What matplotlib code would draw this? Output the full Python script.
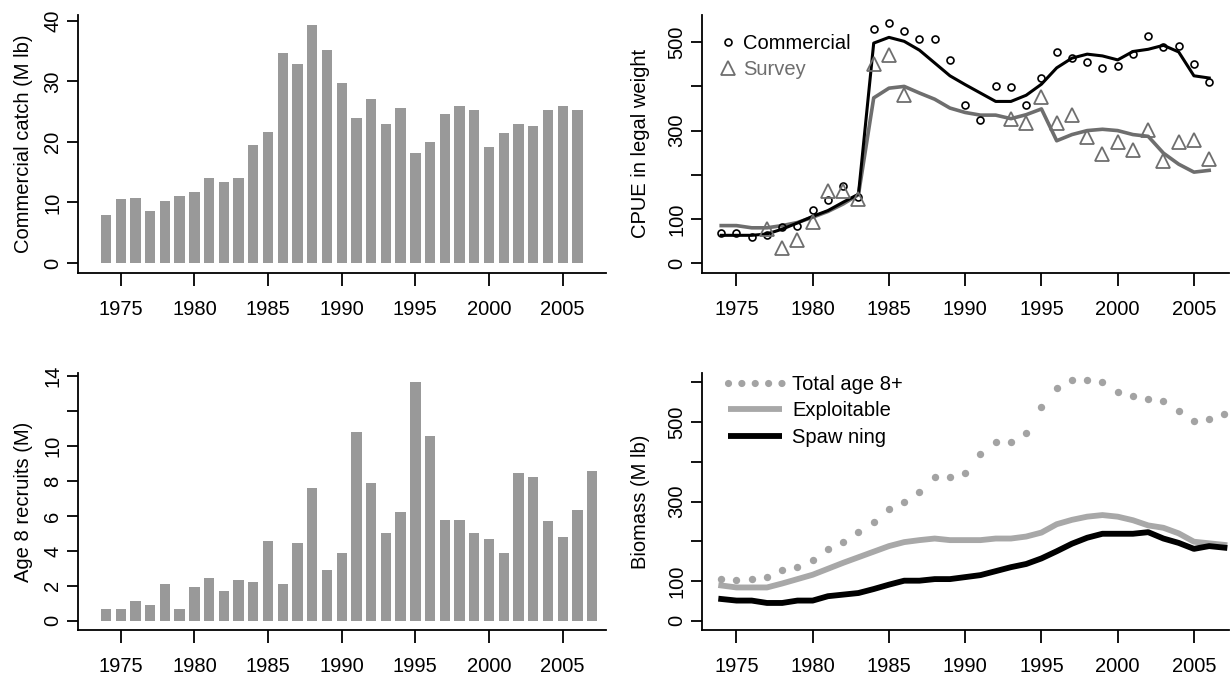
import matplotlib
matplotlib.use("Agg")
import matplotlib.pyplot as plt
from matplotlib.lines import Line2D
import numpy as np

plt.rcParams['font.family'] = ['Liberation Sans', 'DejaVu Sans']

# ---- data ----
years_catch = np.arange(1974, 2007)
catch = [8.0, 10.5, 10.8, 8.6, 10.3, 11.1, 11.8, 14.0, 13.4, 14.0,
         19.5, 21.7, 34.6, 32.9, 39.3, 35.2, 29.8, 24.0, 27.1, 23.0,
         25.6, 18.2, 19.9, 24.6, 26.0, 25.3, 19.2, 21.5, 23.0, 22.7,
         25.3, 26.0, 25.3]

years_rec = np.arange(1974, 2008)
recruits = [0.69, 0.69, 1.14, 0.91, 2.11, 0.69, 1.94, 2.46, 1.71, 2.34,
            2.23, 4.57, 2.11, 4.46, 7.6, 2.91, 3.89, 10.8, 7.89, 5.03,
            6.23, 13.66, 10.57, 5.77, 5.77, 5.03, 4.69, 3.89, 8.46, 8.23,
            5.71, 4.8, 6.34, 8.57]

years_cpue = np.arange(1974, 2007)
comm_obs = [68, 69, 59, 63, 82, 85, 121, 143, 174, 150,
            530, 543, 525, 508, 508, 460, 358, 323, 402, 398,
            358, 420, 477, 465, 455, 442, 446, 473, 513, 490,
            491, 451, 411]
comm_fit = [63, 63, 63, 66, 77, 91, 106, 119, 138, 156,
            498, 511, 502, 482, 453, 424, 404, 385, 366, 366,
            380, 405, 442, 464, 473, 469, 460, 479, 484, 493,
            478, 424, 419]
nan = np.nan
survey_obs = [nan, nan, nan, 77, 34, 53, 93, 164, 164, 145,
              451, 472, 380, nan, nan, nan, nan, nan, nan, 327,
              317, 375, 318, 336, 285, 247, 275, 257, 302, 232,
              274, 279, 235]
survey_fit = [85, 85, 80, 80, 85, 92, 104, 117, 134, 155,
              374, 396, 400, 385, 371, 351, 341, 335, 335, 327,
              336, 349, 277, 291, 300, 303, 300, 291, 287, 249,
              224, 206, 210]

years_bio = np.arange(1974, 2008)
total_bio = [105, 102, 105, 110, 127, 135, 154, 180, 199, 223,
             249, 282, 300, 325, 361, 361, 371, 420, 449, 449,
             473, 538, 586, 605, 605, 601, 576, 566, 557, 552,
             528, 503, 508, 519]
exploit_bio = [89, 84, 84, 84, 94, 105, 116, 131, 146, 160,
               174, 188, 198, 203, 207, 203, 203, 203, 207, 207,
               212, 222, 243, 254, 262, 266, 262, 253, 240, 234,
               220, 199, 195, 191]
spawn_bio = [55, 51, 51, 45, 45, 51, 51, 62, 66, 70,
             80, 91, 101, 101, 105, 105, 110, 115, 125, 135,
             143, 157, 175, 194, 209, 219, 219, 219, 223, 207,
             196, 181, 188, 184]

year_ticks = [1975, 1980, 1985, 1990, 1995, 2000, 2005]

# ---- style ----
f_size = 14.5
l_width = 1.3
c_bar = '#999999'
c_survey = '#6e6e6e'
c_total = '#a3a3a3'
c_exploit = '#a8a8a8'

W, H = 1232, 677


def pos(left, top, width, height):
    return [left / W, 1 - (top + height) / H, width / W, height / H]


def style(ax, xlim, ylim, yticks, ylabels, ylabel, label_x):
    for s in ['top', 'right']:
        ax.spines[s].set_visible(False)
    for s in ['left', 'bottom']:
        ax.spines[s].set_linewidth(l_width)
    ax.set_xlim(*xlim)
    ax.set_ylim(*ylim)
    ax.set_xticks(year_ticks, [str(y) for y in year_ticks])
    ax.set_yticks(yticks, ylabels, rotation=90, va='center')
    ax.tick_params(axis='x', length=9.5, width=l_width, pad=10, labelsize=f_size)
    ax.tick_params(axis='y', length=8, width=l_width, pad=3, labelsize=f_size)
    ax.set_ylabel(ylabel, fontsize=f_size, va='center')
    ax.yaxis.set_label_coords(label_x, 0.5)


def draw_catch(ax):
    ax.bar(years_catch, catch, width=0.7, color=c_bar)
    style(ax, (1972.08, 2007.92), (-1.6, 40.95), [0, 10, 20, 30, 40],
          ['0', '10', '20', '30', '40'], 'Commercial catch (M lb)', -0.102)


def draw_recruits(ax):
    ax.bar(years_rec, recruits, width=0.7, color=c_bar)
    style(ax, (1972.08, 2007.92), (-0.55, 14.2), [0, 2, 4, 6, 8, 10, 12, 14],
          ['0', '2', '4', '6', '8', '10', '', '14'], 'Age 8 recruits (M)', -0.102)


def draw_cpue(ax):
    ax.plot(years_cpue, survey_fit, color=c_survey, lw=2.6)
    ax.plot(years_cpue, comm_fit, color='black', lw=2.2)
    ax.plot(years_cpue, comm_obs, ls='none', marker='o', ms=5, mfc='none',
            mec='black', mew=1.2)
    ax.plot(years_cpue, survey_obs, ls='none', marker='^', ms=10, mfc='none',
            mec=c_survey, mew=1.3)
    style(ax, (1972.72, 2007.28), (-21.6, 561.6), [0, 100, 200, 300, 400, 500],
          ['0', '100', '', '300', '', '500'], 'CPUE in legal weight', -0.116)
    handles = [Line2D([], [], ls='none', marker='o', ms=5, mfc='none', mec='black', mew=1.2),
               Line2D([], [], ls='none', marker='^', ms=10, mfc='none', mec=c_survey, mew=1.3)]
    ax.legend(handles, ['Commercial', 'Survey'], loc='upper left',
              bbox_to_anchor=(0.031, 0.928), frameon=False, fontsize=f_size,
              handlelength=1.0, handletextpad=0.25, borderpad=0,
              borderaxespad=0, labelspacing=0.38, labelcolor='markeredgecolor')


def draw_biomass(ax):
    ax.plot(years_bio, exploit_bio, color=c_exploit, lw=4.2)
    ax.plot(years_bio, spawn_bio, color='black', lw=4.2)
    ax.plot(years_bio, total_bio, ls='none', marker='o', ms=5.3, color=c_total, mec='none')
    style(ax, (1972.72, 2007.28), (-24, 624), [0, 100, 200, 300, 400, 500, 600],
          ['0', '100', '', '300', '', '500', ''], 'Biomass (M lb)', -0.116)
    handles = [Line2D([], [], color=c_total, lw=5.2, ls=(0, (0.001, 1.85)),
                      dash_capstyle='round'),
               Line2D([], [], color=c_exploit, lw=4.2, solid_capstyle='butt'),
               Line2D([], [], color='black', lw=4.2, solid_capstyle='butt')]
    ax.legend(handles, ['Total age 8+', 'Exploitable', 'Spaw ning'], loc='upper left',
              bbox_to_anchor=(0.05, 0.992), frameon=False, fontsize=f_size,
              handlelength=2.7, handletextpad=0.48, borderpad=0,
              borderaxespad=0, labelspacing=0.37)


def draw():
    fig = plt.figure(figsize=(12.32, 6.77), dpi=100)
    ax_tl = fig.add_axes(pos(77.7, 15, 528, 257.7))
    ax_tr = fig.add_axes(pos(701.7, 15, 527, 257.7))
    ax_bl = fig.add_axes(pos(77.7, 372.7, 528, 257.7))
    ax_br = fig.add_axes(pos(701.7, 372.7, 527, 257.7))
    draw_catch(ax_tl)
    draw_cpue(ax_tr)
    draw_recruits(ax_bl)
    draw_biomass(ax_br)
    fig.savefig('out.png', dpi=100)


if __name__ == "__main__":
    draw()
